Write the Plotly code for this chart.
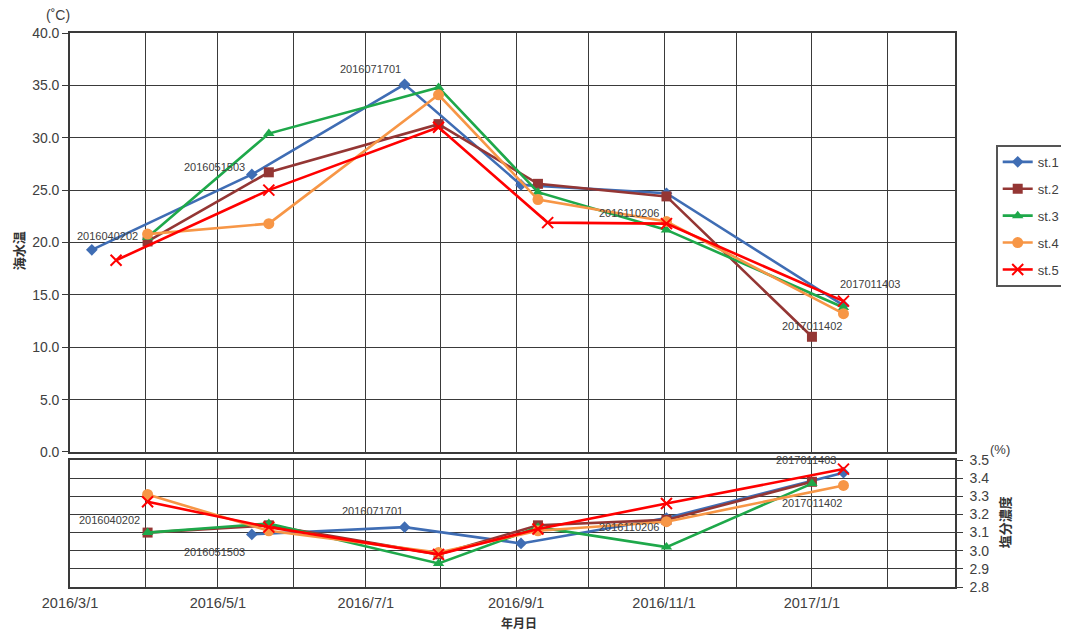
import plotly.graph_objects as go

# ---------------- data ----------------
series_names = ["st.1", "st.2", "st.3", "st.4", "st.5"]

# sea water temperature (top panel)
temp_dates = [
    ["2016-03-10", "2016-05-15", "2016-07-17", "2016-09-03", "2016-11-02", "2017-01-14"],
    ["2016-04-02", "2016-05-22", "2016-07-31", "2016-09-10", "2016-11-02", "2017-01-01"],
    ["2016-04-02", "2016-05-22", "2016-07-31", "2016-09-10", "2016-11-02", "2017-01-14"],
    ["2016-04-02", "2016-05-22", "2016-07-31", "2016-09-10", "2016-11-02", "2017-01-14"],
    ["2016-03-20", "2016-05-22", "2016-07-31", "2016-09-14", "2016-11-02", "2017-01-14"],
]
st1_temp = [19.3, 26.5, 35.1, 25.5, 24.7, 14.0]
st2_temp = [20.1, 26.7, 31.3, 25.6, 24.4, 11.0]
st3_temp = [20.5, 30.4, 34.8, 24.8, 21.2, 13.8]
st4_temp = [20.8, 21.8, 34.1, 24.1, 22.0, 13.2]
st5_temp = [18.3, 25.0, 31.0, 21.9, 21.8, 14.4]
temp_values = [st1_temp, st2_temp, st3_temp, st4_temp, st5_temp]

# salinity (bottom panel)
sal_dates = [
    ["2016-05-15", "2016-07-17", "2016-09-03", "2016-11-02", "2017-01-14"],
    ["2016-04-02", "2016-05-22", "2016-07-31", "2016-09-10", "2016-11-02", "2017-01-01"],
    ["2016-04-02", "2016-05-22", "2016-07-31", "2016-09-10", "2016-11-02", "2017-01-01"],
    ["2016-04-02", "2016-05-22", "2016-07-31", "2016-09-10", "2016-11-02", "2017-01-14"],
    ["2016-04-02", "2016-05-22", "2016-07-31", "2016-09-10", "2016-11-02", "2017-01-14"],
]
st1_sal = [3.09, 3.13, 3.04, 3.18, 3.43]
st2_sal = [3.10, 3.14, 2.98, 3.14, 3.17, 3.38]
st3_sal = [3.10, 3.15, 2.93, 3.13, 3.02, 3.37]
st4_sal = [3.31, 3.11, 2.99, 3.11, 3.16, 3.36]
st5_sal = [3.27, 3.13, 2.98, 3.12, 3.26, 3.45]
sal_values = [st1_sal, st2_sal, st3_sal, st4_sal, st5_sal]

x_tick_dates = ["2016-03-01", "2016-05-01", "2016-07-01", "2016-09-01", "2016-11-01", "2017-01-01"]
x_tick_labels = ["2016/3/1", "2016/5/1", "2016/7/1", "2016/9/1", "2016/11/1", "2017/1/1"]

# ---------------- styles ----------------
colors = ["#3F6DB4", "#943634", "#1EA84A", "#F79646", "#FF0000"]
symbols = ["diamond", "square", "triangle-up", "circle", "x-thin-open"]
sizes = [9, 10, 10, 11, 11]

FONT = "Liberation Sans, Noto Sans CJK JP, sans-serif"
JP = "Noto Sans CJK JP, sans-serif"
GRID = "#3a3a3a"
TXT = "#404040"

fig = go.Figure()

for i, name in enumerate(series_names):
    mk = dict(symbol=symbols[i], size=sizes[i], color=colors[i])
    if symbols[i] == "x-thin-open":
        mk["line"] = dict(color=colors[i], width=2)
    fig.add_trace(go.Scatter(
        x=temp_dates[i], y=temp_values[i], name=name, mode="lines+markers",
        line=dict(color=colors[i], width=2.6), marker=mk,
        xaxis="x", yaxis="y", legendgroup=name, showlegend=True))
for i, name in enumerate(series_names):
    mk = dict(symbol=symbols[i], size=sizes[i], color=colors[i])
    if symbols[i] == "x-thin-open":
        mk["line"] = dict(color=colors[i], width=2)
    fig.add_trace(go.Scatter(
        x=sal_dates[i], y=sal_values[i], name=name, mode="lines+markers",
        line=dict(color=colors[i], width=2.6), marker=mk,
        xaxis="x2", yaxis="y2", legendgroup=name, showlegend=False))

xr = ["2016-03-01", "2017-03-01"]
common_x = dict(
    type="date", range=xr, showgrid=True, gridcolor=GRID, gridwidth=1.4,
    tickmode="array", tickvals=x_tick_dates, automargin=False,
    minor=dict(dtick="M1", tick0="2016-03-01", showgrid=True, gridcolor=GRID, gridwidth=1.4, ticks=""),
    showline=True, linecolor=GRID, linewidth=1.6, mirror=True, zeroline=False,
)

top_domain = [0.2437, 1.0]
bot_domain = [0.0, 0.2292]

# page has an 8px body margin; figure sized so the plot area lands at x 70-955, y 33-587
fig.update_layout(
    width=1053, height=622,
    margin=dict(l=62, r=106, t=25, b=43, autoexpand=False),
    paper_bgcolor="white", plot_bgcolor="white",
    font=dict(family=FONT, color=TXT),
    xaxis=dict(**common_x, domain=[0, 1], anchor="y", showticklabels=False, ticks=""),
    yaxis=dict(domain=top_domain, anchor="x", range=[0, 40], dtick=5, tickformat=".1f",
               showgrid=True, gridcolor=GRID, gridwidth=1.4, zeroline=False, automargin=False,
               showline=True, linecolor=GRID, linewidth=1.6, mirror=True,
               ticks="outside", ticklen=6, tickcolor=GRID,
               tickfont=dict(size=14, family=FONT, color=TXT)),
    xaxis2=dict(**common_x, domain=[0, 1], anchor="y2", ticktext=x_tick_labels,
                ticks="", ticklabelstandoff=2, tickfont=dict(size=14.5, family=FONT, color=TXT)),
    yaxis2=dict(domain=bot_domain, anchor="x2", side="right", range=[2.8, 3.5], dtick=0.1,
                tickformat=".1f", showgrid=True, gridcolor=GRID, gridwidth=1.4, zeroline=False,
                automargin=False,
                showline=True, linecolor=GRID, linewidth=1.6, mirror=True,
                ticks="outside", ticklen=6, tickcolor=GRID, ticklabelstandoff=4,
                tickfont=dict(size=14, family=FONT, color=TXT)),
    legend=dict(x=1.046, y=0.798, xanchor="left", yanchor="top",
                bgcolor="white", bordercolor="#555555", borderwidth=2,
                font=dict(size=13, family=FONT, color=TXT),
                tracegroupgap=7, itemwidth=30),
)

ann = []
def lab(text, x, y, xa, ya, xshift, yshift, xanchor="center"):
    ann.append(dict(text=text, x=x, y=y, xref=xa, yref=ya, xshift=xshift, yshift=yshift,
                    xanchor=xanchor, yanchor="middle", showarrow=False,
                    font=dict(size=11, family=FONT, color=TXT)))

# top panel point labels
lab("2016040202", temp_dates[1][0], st2_temp[0], "x", "y", -8, 5, "right")
lab("2016051503", temp_dates[0][1], st1_temp[1], "x", "y", -5, 7, "right")
lab("2016071701", temp_dates[0][2], st1_temp[2], "x", "y", -2, 15, "right")
lab("2016110206", temp_dates[3][4], st4_temp[4], "x", "y", -5, 9, "right")
lab("2017011403", temp_dates[0][5], st1_temp[5], "x", "y", -5, 21, "left")
lab("2017011402", temp_dates[1][5], st2_temp[5], "x", "y", 0, 11, "center")
# bottom panel point labels
lab("2016040202", sal_dates[1][0], st2_sal[0], "x2", "y2", -6, 13, "right")
lab("2016051503", sal_dates[0][0], st1_sal[0], "x2", "y2", -5, -18, "right")
lab("2016071701", sal_dates[0][1], st1_sal[1], "x2", "y2", 0, 16, "right")
lab("2016110206", sal_dates[3][4], st4_sal[4], "x2", "y2", -5, -5, "right")
lab("2017011403", sal_dates[1][5], st2_sal[5], "x2", "y2", -6, 22, "center")
lab("2017011402", sal_dates[1][5], st2_sal[5], "x2", "y2", 0, -21, "center")

def ptxt(text, x, y, size, family, angle=0, color=TXT):
    ann.append(dict(text=text, xref="paper", yref="paper", x=x, y=y, xanchor="center",
                    yanchor="middle", textangle=angle, showarrow=False,
                    font=dict(size=size, family=family, color=color)))

# axis titles and units
ptxt("<b>海水温</b>", -0.0588, 0.608, 13, JP, -90, "#333")
ptxt("<b>塩分濃度</b>", 1.0554, 0.117, 13, JP, -90, "#333")
ptxt("(˚C)", -0.0136, 1.0325, 14, FONT)
ptxt("(%)", 1.051, 0.2475, 13, FONT)
ptxt("<b>年月日</b>", 0.507, -0.0645, 12, JP, 0, "#333")
fig.update_layout(annotations=ann)

fig.write_html("out.html")
